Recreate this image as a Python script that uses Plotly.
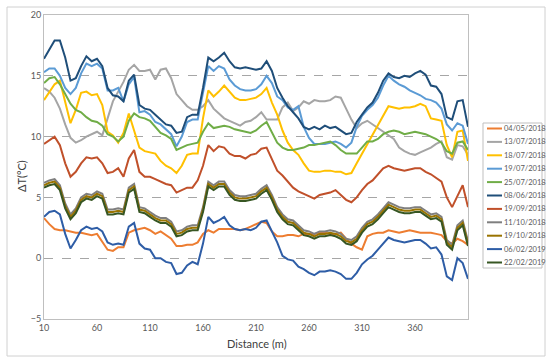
import plotly.graph_objects as go

distance = list(range(10, 415, 5))

labels = ["04/05/2018", "13/07/2018", "18/07/2018", "19/07/2018", "25/07/2018",
          "08/06/2018", "19/09/2018", "11/10/2018", "19/10/2018", "06/02/2019", "22/02/2019"]

d_04_05_2018 = [
    3.3, 2.8, 2.4, 2.3, 2.3, 2.2, 2.1, 2.1, 2.0, 1.9,
    2.0, 1.4, 0.7, 0.6, 0.9, 0.9, 2.1, 2.3, 2.4, 2.5,
    2.3, 2.0, 2.2, 1.9, 1.6, 1.0, 1.0, 1.1, 1.1, 1.3,
    2.0, 2.3, 2.1, 2.4, 2.4, 2.4, 2.4, 2.3, 2.4, 2.6,
    2.8, 3.0, 2.9, 2.2, 1.8, 1.8, 1.9, 1.9, 1.8, 2.0,
    2.0, 2.0, 2.1, 2.1, 2.0, 2.0, 2.1, 1.6, 1.2, 0.9,
    0.7, 1.8, 2.0, 2.1, 2.1, 2.3, 2.2, 2.1, 2.2, 2.3,
    2.2, 2.1, 2.1, 2.1, 2.0, 1.9, 1.4, 1.2, 1.6, 1.4,
    1.1]
d_13_07_2018 = [
    14.0, 13.7, 13.2, 12.3, 11.0, 9.9, 9.5, 9.7, 10.0, 10.2,
    10.4, 10.1, 11.5, 12.9, 13.7, 14.5, 15.5, 15.9, 15.4, 15.4,
    15.5, 14.7, 15.5, 15.6, 14.8, 13.5, 13.0, 12.5, 12.2, 12.2,
    12.5, 13.0, 12.3, 11.9, 11.5, 11.3, 11.1, 10.9, 11.2, 11.3,
    11.6, 12.0, 11.4, 11.4, 11.4, 12.4, 12.8, 12.1, 12.4, 12.9,
    12.7, 13.0, 12.9, 12.9, 13.0, 13.3, 13.2, 12.3, 11.4, 10.7,
    11.1, 11.3, 11.0, 10.7, 10.4, 10.1, 9.8, 9.1, 8.8, 8.6,
    8.5, 8.7, 8.9, 9.1, 9.4, 9.6, 8.3, 8.1, 9.3, 9.2,
    8.5]
d_18_07_2018 = [
    13.0, 13.6, 14.3, 14.6, 12.8, 11.1, 12.2, 13.6, 13.7, 13.4,
    13.5, 12.6, 10.4, 10.1, 9.5, 10.3, 11.9, 10.5, 9.1, 8.8,
    8.7, 8.6, 8.0, 7.6, 7.4, 7.0, 7.6, 8.5, 8.6, 8.6,
    11.5, 13.8, 13.3, 13.7, 14.2, 13.7, 13.2, 13.0, 13.0, 13.1,
    13.2, 13.5, 14.0, 12.8, 11.8, 10.5, 9.5, 8.9, 8.5, 7.8,
    7.2, 7.1, 7.1, 7.2, 7.2, 7.1, 7.1, 6.9, 7.0, 7.8,
    8.6, 9.4, 10.1, 10.9, 11.8, 12.5, 12.4, 12.3, 12.4, 12.4,
    12.5, 12.7, 12.5, 11.5, 11.4, 11.3, 9.3, 8.3, 10.4, 10.5,
    8.0]
d_19_07_2018 = [
    15.3, 15.6, 15.6, 15.0, 14.0, 13.5, 14.0, 15.2, 16.0, 15.8,
    16.0, 15.6, 13.8, 13.8, 14.0, 12.9, 14.3, 14.9, 12.0, 12.1,
    11.8, 11.2, 11.0, 10.6, 10.2, 9.2, 10.0, 11.2, 11.4, 11.4,
    13.5, 15.8, 15.4, 15.8, 15.6, 14.7, 14.2, 13.9, 13.8, 13.8,
    13.9, 14.3, 15.0, 14.4, 13.3, 13.0, 12.4, 12.2, 12.5, 10.8,
    9.9, 9.4, 9.4, 9.4, 9.5, 9.6, 9.4, 9.1, 9.5, 10.8,
    11.7, 12.2, 12.6, 13.2, 14.2, 15.0, 14.6, 14.3, 14.1, 13.8,
    13.6, 13.4, 13.1, 13.0, 12.8, 12.3, 11.0, 10.5, 11.1, 10.9,
    9.4]
d_25_07_2018 = [
    14.4, 14.8, 14.9, 14.3, 13.5, 12.7, 12.2, 12.0, 11.6, 11.3,
    11.2, 10.9, 10.2, 10.0, 9.6, 10.0, 11.3, 11.9, 11.6, 11.5,
    11.3, 10.8, 10.3, 10.1, 9.8, 8.9, 9.1, 9.3, 9.4, 9.5,
    10.4, 11.1, 10.7, 10.8, 10.9, 10.8, 10.6, 10.5, 10.4, 10.3,
    10.5, 10.9, 11.2, 10.3, 9.5, 9.1, 8.9, 8.9, 9.0, 9.1,
    9.3, 9.3, 9.4, 9.5, 9.6, 9.3, 8.9, 8.6, 8.6, 8.6,
    9.1, 9.6, 9.6, 9.8, 10.2, 10.4, 10.5, 10.4, 10.2, 10.3,
    10.4, 10.3, 10.2, 10.0, 9.8, 9.5, 8.8, 8.6, 9.5, 9.6,
    8.9]
d_08_06_2018 = [
    16.4, 17.2, 17.9, 17.9, 16.5, 14.6, 14.8, 15.8, 16.6, 16.2,
    16.4, 15.8, 14.0, 13.4, 13.3, 12.9, 14.6, 15.1, 12.6, 12.3,
    12.2, 11.8, 11.4, 11.0, 10.9, 10.3, 10.4, 11.6, 11.8, 11.8,
    14.0, 16.5, 16.2, 16.5, 16.9, 16.2, 15.7, 15.6, 15.7, 15.6,
    15.5, 15.6, 16.2, 15.4, 14.0, 13.2, 12.5, 12.0, 11.5, 10.8,
    10.6, 10.8, 10.6, 10.9, 10.7, 10.8, 10.5, 10.2, 10.3, 11.2,
    11.8, 12.4, 12.8, 13.6, 14.6, 15.2, 14.9, 14.8, 15.0, 14.9,
    15.2, 15.4, 15.1, 14.2, 14.1, 13.5, 11.6, 11.4, 12.9, 13.0,
    10.8]
d_19_09_2018 = [
    9.4, 9.7, 10.0, 9.3, 7.8, 6.7, 7.1, 7.8, 8.3, 8.2,
    8.3, 7.8, 7.0, 7.1, 7.4, 6.7, 8.2, 8.9, 7.1, 6.7,
    6.7, 6.5, 6.3, 6.1, 6.0, 5.4, 5.6, 5.8, 5.8, 6.4,
    7.6, 9.3, 8.8, 9.2, 9.1, 8.6, 8.4, 8.4, 8.2, 8.5,
    8.6, 9.0, 9.1, 8.2, 7.2, 6.8, 6.3, 5.8, 5.5, 5.3,
    5.1, 4.9, 5.2, 5.3, 5.4, 5.6, 5.2, 4.8, 4.6, 5.0,
    5.6, 6.1, 6.4, 6.9, 7.4, 7.6, 7.4, 7.3, 7.2, 7.3,
    7.4, 7.4, 7.1, 6.9, 6.6, 6.3, 5.0, 4.2, 5.1, 6.0,
    4.2]
d_11_10_2018 = [
    6.2, 6.4, 6.5, 6.0, 4.5, 3.6, 4.1, 5.0, 5.3, 5.2,
    5.5, 5.3, 4.0, 4.0, 4.1, 4.0, 5.8, 6.1, 4.2, 4.1,
    3.8, 3.5, 3.3, 3.3, 3.0, 2.2, 2.3, 2.6, 2.7, 2.7,
    4.2, 6.3, 6.0, 6.3, 6.3, 5.6, 5.2, 5.1, 5.1, 5.2,
    5.3, 5.7, 6.0, 5.2, 4.2, 3.6, 3.2, 3.1, 2.7, 2.3,
    2.2, 2.0, 2.2, 2.2, 2.3, 2.2, 2.0, 1.6, 1.5, 1.8,
    2.5, 3.0, 3.2, 3.6, 4.1, 4.6, 4.4, 4.2, 4.1, 4.1,
    4.2, 4.2, 3.9, 3.6, 3.7, 3.4, 1.5, 1.1, 2.7, 3.1,
    1.4]
d_19_10_2018 = [
    6.0, 6.2, 6.3, 5.8, 4.3, 3.4, 3.9, 4.8, 5.1, 5.0,
    5.3, 5.1, 3.8, 3.8, 3.9, 3.8, 5.6, 5.9, 4.0, 3.9,
    3.6, 3.3, 3.1, 3.1, 2.8, 2.0, 2.1, 2.4, 2.5, 2.5,
    4.0, 6.1, 5.8, 6.1, 6.1, 5.4, 5.0, 4.9, 4.9, 5.0,
    5.1, 5.5, 5.8, 5.0, 4.0, 3.4, 3.0, 2.9, 2.5, 2.1,
    2.0, 1.8, 2.0, 2.0, 2.1, 2.0, 1.8, 1.4, 1.3, 1.6,
    2.3, 2.8, 3.0, 3.4, 3.9, 4.4, 4.2, 4.0, 3.9, 3.9,
    4.0, 4.0, 3.7, 3.4, 3.5, 3.2, 1.3, 0.9, 2.5, 2.9,
    1.2]
d_06_02_2019 = [
    3.4, 3.8, 3.9, 3.6, 2.0, 0.8, 1.5, 2.3, 2.6, 2.4,
    2.5, 2.2, 1.3, 1.1, 1.2, 1.1, 2.6, 2.9, 1.2, 0.8,
    0.7, 0.0, 0.0, -0.3, -0.4, -1.3, -1.2, -0.6, -0.3, -0.5,
    1.2, 3.4, 2.9, 3.1, 3.4, 2.7, 2.4, 2.3, 2.4, 2.3,
    2.5, 3.0, 3.1, 2.2, 1.3, 0.2, -0.1, -0.2, -0.7, -0.9,
    -1.2, -1.4, -1.1, -1.1, -1.0, -1.1, -1.3, -1.7, -1.7, -1.2,
    -0.5, -0.1, 0.2, 0.7, 1.2, 1.7, 1.5, 1.4, 1.3, 1.4,
    1.5, 1.5, 1.2, 0.8, 0.9, 0.3, -1.5, -1.8, 0.0, -0.4,
    -1.7]
d_22_02_2019 = [
    5.8, 6.0, 6.1, 5.6, 4.1, 3.2, 3.7, 4.6, 4.9, 4.8,
    5.1, 4.9, 3.6, 3.6, 3.7, 3.6, 5.4, 5.7, 3.8, 3.7,
    3.4, 3.1, 2.9, 2.9, 2.6, 1.8, 1.9, 2.2, 2.3, 2.3,
    3.8, 5.9, 5.6, 5.9, 5.9, 5.2, 4.8, 4.7, 4.7, 4.8,
    4.9, 5.3, 5.6, 4.8, 3.8, 3.2, 2.8, 2.7, 2.3, 1.9,
    1.8, 1.6, 1.8, 1.8, 1.9, 1.8, 1.6, 1.2, 1.1, 1.4,
    2.1, 2.6, 2.8, 3.2, 3.7, 4.2, 4.0, 3.8, 3.7, 3.7,
    3.8, 3.8, 3.5, 3.2, 3.3, 3.0, 1.1, 0.7, 2.3, 2.7,
    1.0]

series = [d_04_05_2018, d_13_07_2018, d_18_07_2018, d_19_07_2018, d_25_07_2018,
          d_08_06_2018, d_19_09_2018, d_11_10_2018, d_19_10_2018, d_06_02_2019, d_22_02_2019]
colors = ["#ED7D31", "#A5A5A5", "#FFC000", "#5B9BD5", "#70AD47",
          "#1F4E79", "#C0502A", "#7F7F7F", "#997300", "#2E5DA6", "#375623"]

x_ticks = [10, 60, 110, 160, 210, 260, 310, 360]
y_ticks = [-5, 0, 5, 10, 15, 20]

x_title = "Distance (m)"
y_title = "ΔT(°C)"

FONT = "Lato, 'Open Sans', sans-serif"

# plot-area geometry in pixels (used to place the legend in paper coordinates)
PL, PR, PT, PB = 44, 468, 15, 319
PW, PH = PR - PL, PB - PT


def px_x(px):
    return (px - PL) / PW


def px_y(py):
    return (PB - py) / PH


fig = go.Figure()
for name, vals, col in zip(labels, series, colors):
    fig.add_trace(go.Scatter(x=distance, y=vals, name=name, mode="lines",
                             line=dict(color=col, width=2), showlegend=False))

shapes = [dict(type="rect", xref="paper", yref="paper",
               x0=px_x(7), x1=px_x(545), y0=px_y(356), y1=px_y(7),
               line=dict(color="#D0D0D0", width=1)),
          dict(type="rect", xref="paper", yref="paper",
               x0=px_x(483), x1=px_x(542), y0=px_y(268), y1=px_y(123),
               line=dict(color="#BFBFBF", width=1))]
annotations = [
    dict(xref="paper", yref="paper", x=px_x(257), y=px_y(343), xanchor="center",
         yanchor="middle", showarrow=False, text=x_title,
         font=dict(size=11, color="#404040", family=FONT)),
    dict(xref="paper", yref="paper", x=px_x(21), y=px_y(176), xanchor="center",
         yanchor="middle", showarrow=False, text=y_title, textangle=-90,
         font=dict(size=11, color="#404040", family=FONT)),
]
for i, (name, col) in enumerate(zip(labels, colors)):
    yy = 128.5 + i * 13.4
    shapes.append(dict(type="line", xref="paper", yref="paper",
                       x0=px_x(487), x1=px_x(502), y0=px_y(yy), y1=px_y(yy),
                       line=dict(color=col, width=2)))
    annotations.append(dict(xref="paper", yref="paper", x=px_x(502), y=px_y(yy),
                            xanchor="left", yanchor="middle", showarrow=False,
                            text=name, font=dict(size=7.5, color="#595959", family=FONT)))

fig.update_layout(
    width=550, height=362, autosize=False,
    margin=dict(l=PL, r=550 - PR, t=PT, b=362 - PB),
    paper_bgcolor="white", plot_bgcolor="white",
    font=dict(family=FONT, color="#595959", size=9),
    showlegend=False,
    xaxis=dict(range=[10, 410], tickvals=x_ticks, showgrid=False, zeroline=False,
               showline=True, mirror=True, linecolor="#BFBFBF", linewidth=1,
               ticks="", tickfont=dict(size=9, color="#595959"), automargin=False),
    yaxis=dict(range=[-5, 20], tickvals=y_ticks, showgrid=True, gridcolor="#A6A6A6",
               griddash="dash", gridwidth=1, zeroline=False,
               showline=True, mirror=True, linecolor="#BFBFBF", linewidth=1,
               ticks="", tickfont=dict(size=9, color="#595959"), automargin=False),
    shapes=shapes,
    annotations=annotations,
)

fig.write_html("out.html", config={"displayModeBar": False})

# remove the default page margin so the figure sits at the window's top-left corner
with open("out.html", "r", encoding="utf-8") as fh:
    html = fh.read()
html = html.replace("<head>", "<head><style>html,body{margin:0;padding:0;overflow:hidden;}</style>", 1)
with open("out.html", "w", encoding="utf-8") as fh:
    fh.write(html)
